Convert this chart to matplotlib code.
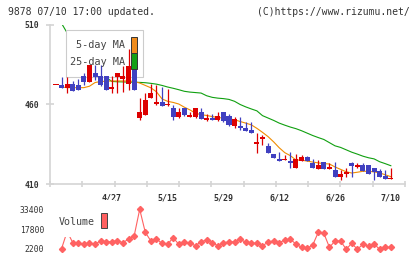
import numpy as np
import matplotlib
matplotlib.use('Agg')
import matplotlib.pyplot as plt
from matplotlib.patches import Rectangle
from matplotlib import rcParams

rcParams.update({'font.family': 'DejaVu Sans Mono', 'font.size': 6})

# daily candles, 4/13 .. 7/10 (61 trading days)
opens = [472, 472.3, 470.6, 472.7, 472.3, 478, 474.3, 480, 478, 478,
         469.6, 477, 475.8, 472.7, 486, 451.3, 453.6, 464.3, 460.6, 461.4,
         459.5, 457.6, 452, 457.5, 452, 452.3, 455.5, 450.5, 451.7, 450.2,
         455.1, 452.8, 446.7, 445.8, 445.4, 444, 435.4, 438.5, 433.9, 428.9,
         425.7, 424.9, 423.6, 420.3, 424.7, 427.2, 423.4, 419.4, 423.6, 419.7,
         418.8, 414.6, 416.5, 423, 420.7, 421.9, 421.9, 419.9, 418.2, 415,
         412.9]
highs = [472, 477, 477, 475, 476, 480, 485, 485, 485, 478,
         478, 480, 484, 494.7, 488, 463.9, 467, 473, 472, 471,
         470, 459.7, 458, 458, 455.5, 458, 458, 454, 454, 455,
         455.5, 453.8, 452.3, 452, 448.8, 448.8, 442, 441, 436, 428.9,
         430.3, 428.2, 430, 428.9, 428.2, 427.5, 425.5, 425.1, 423.6, 423,
         423.6, 418.8, 420, 424, 423, 423, 421.9, 419.9, 419.2, 418.8,
         419.9]
lows = [472, 470.6, 467.4, 468.7, 469, 472.3, 474, 475.4, 471.8, 469,
        467.4, 467, 468, 469, 469, 450.2, 453.6, 464, 459.5, 459,
        459.2, 450.2, 451.7, 452.5, 452, 451.7, 450.7, 449.8, 450.1, 449.6,
        448.8, 446.7, 445, 444, 443.5, 442.3, 429.7, 434.5, 429.7, 426.5,
        424.7, 424.9, 420.3, 420.3, 424.7, 424.7, 420.3, 419.4, 419.4, 419.4,
        414.6, 412.5, 414.6, 414.6, 419.9, 418.4, 416.3, 412.5, 414.6, 412.9,
        412.9]
closes = [472, 470.6, 472.9, 468.7, 469.1, 474.3, 484.8, 477.5, 472, 469.1,
          471.2, 480, 477.9, 484.2, 469.1, 455.5, 462.8, 467.4, 461, 459.2,
          460.2, 452, 455.3, 453.6, 452.4, 457.6, 450.7, 450.8, 450.1, 452.8,
          449.8, 447.1, 450.9, 445.4, 443.5, 442.3, 435.8, 438.9, 429.7, 426.5,
          424.7, 425.2, 423.2, 425.5, 427.2, 424.7, 420.3, 421.9, 419.4, 420,
          414.6, 416.3, 416.9, 421.5, 421.1, 418.4, 416.3, 417.7, 414.6, 412.9,
          413.1]

ma5 = [np.nan, 471, 470.6, 470.6, 470.6, 470.6, 471.5, 473.8, 474.5, 474.6,
       474.8, 474.8, 474.8, 474.8, 474.5, 473.5, 472, 470.5, 468, 463.5,
       462, 461.3, 460.3, 458.3, 456.6, 454.5, 453.6, 453.1, 452.4, 451.8,
       451.5, 450.9, 450.4, 449.3, 448.3, 447.2, 445, 442.5, 439.8, 436.5,
       432.8, 429.7, 427.8, 425.1, 425, 424.4, 423.8, 423.3, 422.8, 422.6,
       420.7, 419.2, 417.7, 416.9, 417.4, 418, 418, 417.6, 417, 415.8,
       414.6]
ma25 = [np.nan, 511, 505, 500, 496, 492, 488, 484, 480, 477,
        474.5, 474.3, 474.2, 474.1, 474, 473.9, 473.7, 473.3, 472.8, 472,
        471, 470.2, 469.3, 468.3, 467.8, 467.5, 467.2, 465.5, 464.5, 464,
        463.7, 463.2, 462, 460, 458.5, 457.2, 456, 453, 451.5, 450,
        448.3, 447, 445.8, 444.8, 443.5, 442, 440.5, 439.2, 438, 436,
        434, 433, 431.5, 430, 428.8, 427.5, 426.5, 425.8, 424, 422.8,
        421.5]

volume = [np.nan, 2500, 16000, 7150, 6700, 5900, 6700, 5900, 8700, 7900,
          7900, 8700, 7150, 10000, 12400, 33400, 15300, 8500, 10000, 6700,
          5900, 11100, 5900, 7500, 6700, 4800, 7900, 9300, 7150, 4800,
          7150, 7700, 7900, 9800, 7500, 6700, 6700, 4800, 7500, 8700,
          7150, 9300, 9800, 6100, 3500, 2750, 5300, 15300, 14500, 3500,
          8500, 8500, 2000, 6700, 2000, 5900, 4600, 6100, 2000, 3500,
          3500]

date_idx = [10, 20, 30, 40, 50, 60]
date_lbl = ['4/27', '5/15', '5/29', '6/12', '6/26', '7/10']
price_ticks = [410, 460, 510]
vol_ticks = [2200, 17800, 33400]

up_c = '#dd0000'
dn_c = '#4040c0'
grid_c = '#d4d4d4'
txt_c = '#333333'

W, H = 420, 259
def fx(px):
    return px / W
def fy(py):
    return 1 - py / H

fig = plt.figure(figsize=(4.2, 2.59), dpi=100)
ax = fig.add_axes([fx(50), fy(184), 355 / W, 159 / H])
axv = fig.add_axes([fx(50), fy(252), 355 / W, 47 / H])

xlim = (-1.075, 62.54)
n = len(closes)
idx = np.arange(n)

# moving averages (under the legend box)
ax.plot(idx, ma25, color='#10a010', lw=0.8, zorder=2)
ax.plot(idx, ma5, color='#f08c00', lw=0.8, zorder=2)

# candles
for i in range(n):
    o, h, l, c = opens[i], highs[i], lows[i], closes[i]
    col = up_c if c >= o else dn_c
    ax.vlines(i, l, h, color=col, lw=0.9, zorder=4)
    body = max(abs(c - o), 1.1)
    ax.add_patch(Rectangle((i - 0.45, min(o, c)), 0.9, body, fc=col, ec='none', zorder=4))

ax.set_xlim(*xlim)
ax.set_ylim(410, 510)
for s in ['top', 'right']:
    ax.spines[s].set_visible(False)
for s in ['left', 'bottom']:
    ax.spines[s].set_color(grid_c)
    ax.spines[s].set_linewidth(1.2)
ax.set_xticks(np.linspace(xlim[0], xlim[1], 12))
ax.set_xticklabels([])
ax.tick_params(axis='x', direction='inout', length=5, width=1.2, color=grid_c)
ax.set_yticks(price_ticks)
ax.set_yticklabels([str(t) for t in price_ticks])
ax.tick_params(axis='y', direction='inout', length=6, width=1.2, color=grid_c,
               labelsize=5.8, labelcolor=txt_c, pad=4.6)
for lbl in ax.get_yticklabels():
    lbl.set_fontweight('bold')

for i, lbl in zip(date_idx, date_lbl):
    ax.text(i, -0.088, lbl, transform=ax.get_xaxis_transform(), ha='center',
            va='center', fontsize=6, color=txt_c, fontweight='bold')

# price legend
ax.add_patch(Rectangle((fx(65.7), fy(77.3)), 77.6 / W, 47.3 / H, transform=fig.transFigure,
                       fc='white', ec='#cccccc', lw=0.8, zorder=3, clip_on=False))
ax.text(fx(125), fy(45.5), '5-day MA', transform=fig.transFigure, ha='right', va='center',
        fontsize=7.3, color='#444444', zorder=5)
ax.text(fx(125), fy(62), '25-day MA', transform=fig.transFigure, ha='right', va='center',
        fontsize=7.3, color='#444444', zorder=5)
ax.add_patch(Rectangle((fx(131), fy(52.7)), 6.3 / W, 15.4 / H, transform=fig.transFigure,
                       fc='#f08c1c', ec='#333333', lw=0.7, zorder=5, clip_on=False))
ax.add_patch(Rectangle((fx(131), fy(69.3)), 6.3 / W, 16 / H, transform=fig.transFigure,
                       fc='#14a014', ec='#333333', lw=0.7, zorder=5, clip_on=False))

# volume
axv.plot(idx, volume, color='#ff6262', lw=0.8, marker='D', ms=3.1, zorder=2)
axv.set_xlim(*xlim)
axv.set_ylim(-158, 36780)
for s in axv.spines.values():
    s.set_visible(False)
axv.set_xticks([])
axv.set_yticks(vol_ticks)
axv.set_yticklabels([str(t) for t in vol_ticks])
axv.tick_params(axis='y', length=0, labelsize=5.8, labelcolor=txt_c, pad=4.3)
axv.patch.set_alpha(0)

axv.add_patch(Rectangle((fx(55), fy(237)), 60 / W, 37 / H, transform=fig.transFigure,
                        fc='white', ec='none', zorder=3, clip_on=False))
axv.text(fx(58.3), fy(222), 'Volume', transform=fig.transFigure, ha='left', va='center',
         fontsize=7.2, color='#444444', zorder=5)
axv.add_patch(Rectangle((fx(101.3), fy(228.3)), 6 / W, 15 / H, transform=fig.transFigure,
                        fc='#ff6060', ec='#444444', lw=0.7, zorder=5, clip_on=False))

fig.text(fx(8), fy(12), '9878 07/10 17:00 updated.', ha='left', va='center',
         fontsize=7, color=txt_c)
fig.text(fx(410), fy(12), '(C)https://www.rizumu.net/', ha='right', va='center',
         fontsize=7, color=txt_c)

fig.savefig('out.png', dpi=100)
